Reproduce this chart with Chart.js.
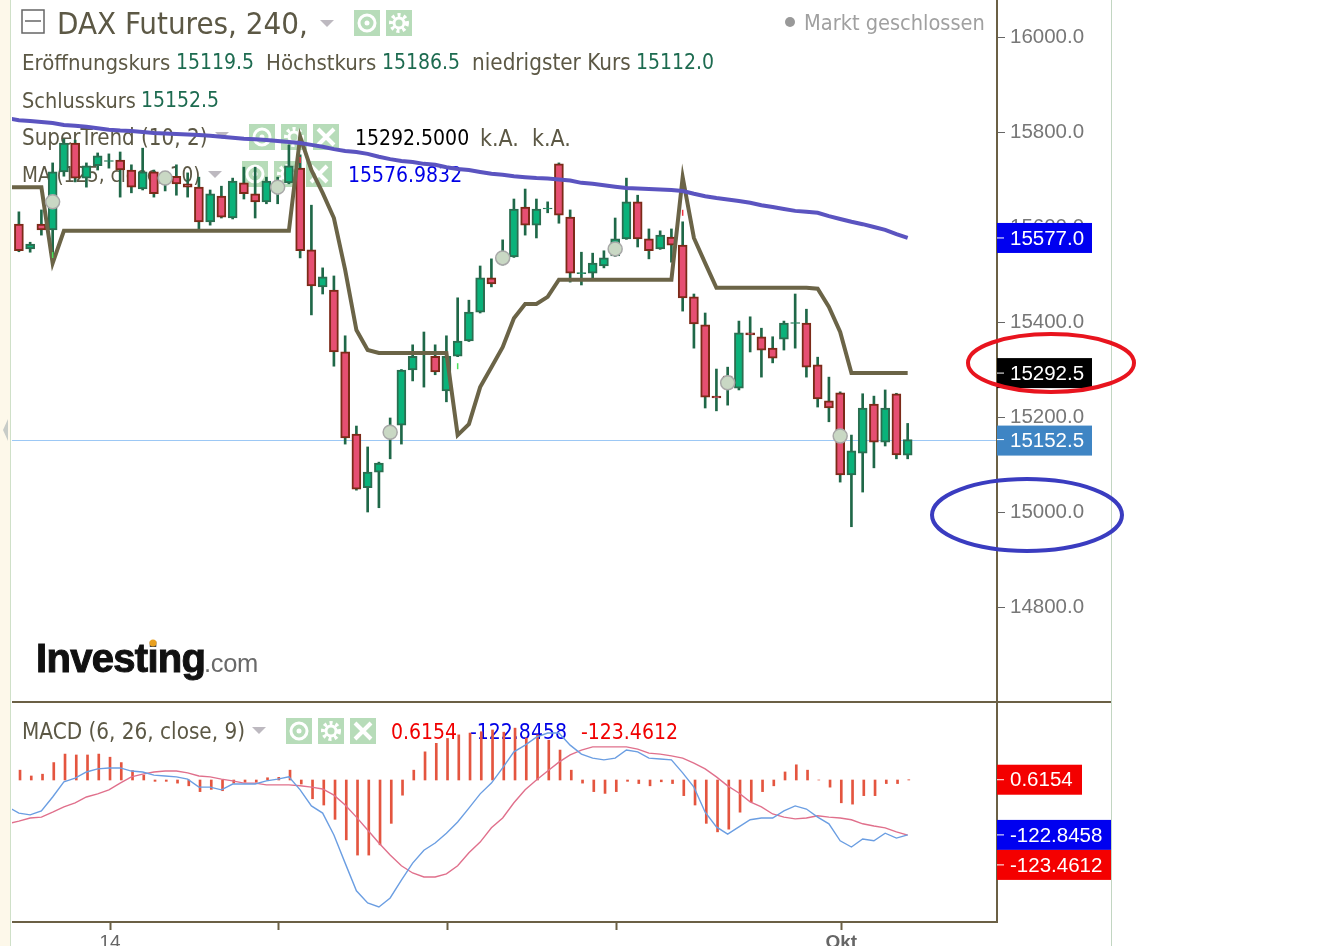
<!DOCTYPE html>
<html>
<head>
<meta charset="utf-8">
<title>DAX Futures, 240</title>
<script src="https://cdn.jsdelivr.net/npm/chart.js@4"></script>
<style>
html, body { margin: 0; padding: 0; background: #fff; overflow: hidden; }
canvas { display: block; }
</style>
</head>
<body>
<canvas id="chart-dax" width="1330" height="946"></canvas>
<script>
const opens = [15606,15554,15606,15594,15716,15777,15703,15729,15738,15741,
    15720,15680,15716,15697,15707,15691,15684,15611,15665,15619,
    15693,15670,15653,15678,15693,15724,15552,15474,15467,15337,
    15164,15051,15084,15158,15183,15299,15333,15328,15255,15328,
    15360,15421,15493,15526,15537,15642,15604,15638,15733,15621,
    15502,15503,15518,15539,15575,15653,15575,15554,15579,15562,
    15453,15394,15244,15286,15261,15377,15369,15345,15364,15397,
    15398,15310,15234,15251,15078,15124,15227,15147,15249,15119.5];
const highs = [15632,15568,15636,15735,15785,15783,15735,15756,15754,15758,
    15731,15766,15720,15716,15731,15714,15705,15678,15686,15703,
    15726,15726,15705,15705,15773,15752,15646,15514,15497,15371,
    15181,15137,15105,15198,15300,15352,15379,15352,15371,15451,
    15446,15518,15533,15573,15659,15680,15659,15653,15735,15636,
    15547,15545,15550,15619,15703,15667,15596,15592,15596,15611,
    15459,15419,15301,15305,15402,15411,15387,15369,15402,15459,
    15427,15326,15284,15253,15162,15249,15244,15257,15250,15186.5];
const lows = [15548,15547,15583,15541,15707,15695,15684,15720,15724,15663,
    15672,15678,15663,15676,15667,15663,15596,15604,15619,15617,
    15659,15619,15649,15649,15691,15535,15415,15459,15307,15143,
    15046,15000,15009,15112,15143,15276,15263,15289,15232,15327,
    15359,15419,15474,15520,15536,15583,15577,15630,15608,15484,
    15478,15491,15514,15538,15574,15558,15533,15553,15526,15423,
    15345,15219,15213,15225,15257,15337,15284,15314,15341,15345,
    15284,15221,15190,15063,14969,15042,15093,15139,15112,15112];
const closes = [15550,15564,15594,15716,15777,15703,15729,15750,15740,15720,
    15684,15716,15670,15710,15691,15684,15611,15670,15621,15697,
    15670,15653,15697,15691,15729,15550,15476,15495,15337,15156,
    15048,15084,15103,15179,15299,15328,15335,15295,15328,15360,
    15421,15493,15480,15541,15638,15604,15638,15640,15625,15503,
    15504,15524,15535,15575,15653,15575,15550,15583,15562,15451,
    15396,15242,15240,15259,15377,15373,15341,15324,15398,15399,
    15305,15238,15219,15078,15129,15219,15147,15219,15120,15152.5];

// line series start one bar earlier, they run in from the left edge
const superTrend = [15684,15684,15684,15684,15524,
    15592,15592,15592,15592,15592,15592,15592,15592,15592,15592,15592,
    15592,15592,15592,15592,15592,15592,15592,15592,15592,15592,
    15790,15720,15672,15619,15510,15383,15341,
    15335,15335,15335,15335,15335,15335,15335,
    15162,15185,15263,15305,15347,15408,15438,15438,15453,15489,
    15489,15489,15489,15489,15489,15489,15489,15489,15489,15489,
    15705,15577,15524,15472,
    15472,15472,15472,15472,15472,15472,15472,15472,
    15470,15432,15379,15292.5,15292.5,15292.5,15292.5,15292.5,15292.5];
const movingAverage = [15829,15825,15823,15821,15819,15815,15813,15811,15808,15805,
    15803,15802,15800,15798,15797,15796,15795,15794,15792,15790,
    15788,15786,15785,15783,15781,15779,15777,15773,15769,15764,
    15760,15758,15754,15748,15743,15739,15737,15733,15731,15726,
    15722,15720,15716,15712,15710,15707,15705,15703,15702,15700,
    15698,15693,15691,15688,15685,15682,15681,15680,15679,15678,
    15676,15670,15665,15661,15658,15655,15651,15646,15642,15638,
    15634,15632,15630,15623,15617,15611,15606,15600,15594,15585,15577];
const macdLine = [-60,-74,-78,-69,-38,-4,4,18,25,27,27,
    20,18,11,9,7,2,-16,-16,-22,-9,
    -9,-9,-2,2,7,-22,-58,-74,-123,-186,
    -248,-275,-284,-264,-224,-186,-157,-141,-119,-94,
    -63,-31,-7,27,63,78,96,105,105,78,
    58,49,45,49,67,63,49,47,45,16,
    -16,-72,-105,-121,-105,-89,-85,-85,-69,-58,
    -65,-83,-98,-136,-150,-132,-136,-119,-130,-122.85];
const signalLine = [-98,-92,-85,-83,-72,-60,-51,-38,-31,-22,-7,
    7,13,18,20,20,16,9,7,2,-2,
    -7,-7,-11,-11,-11,-13,-16,-20,-34,-56,
    -83,-112,-141,-168,-192,-208,-217,-217,-210,-192,
    -163,-139,-107,-85,-51,-22,0,20,40,56,
    67,74,74,74,74,69,60,58,54,49,
    38,25,7,-13,-29,-49,-60,-76,-83,-87,
    -85,-80,-83,-85,-89,-98,-103,-107,-116,-123.46];
const histogram = [22,9,13,39,58,56,56,58,51,39,
    21,11,-3,-3,-7,-13,-26,-21,-24,-7,
    -5,-5,5,6,22,-9,-42,-56,-88,-134,
    -168,-168,-145,-97,-34,22,63,82,93,101,
    105,108,112,107,116,94,101,89,67,22,
    -7,-26,-30,-26,-3,-8,-13,-4,-8,-35,
    -56,-97,-116,-110,-72,-49,-26,-13,18,34,
    22,0,-16,-51,-54,-35,-35,-8,-8,0.6];

const markerBars = [3,13,23,33,43,53,63,73];
const markerValues = [15653,15703,15684,15168,15535,15554,15272,15160];
const upSignalBars = [3,39];
const upSignalValues = [15541,15307];
const downSignalBars = [25,59];
const downSignalValues = [15741,15630];

const priceTicks = [14800,15000,15200,15400,15600,15800,16000];
const xTickBars = [8,23,38,53,73];
const xTickLabels = ['14','','','','Okt'];

const lastClose = 15152.5;
const superTrendLast = 15292.5;
const maLast = 15577;
const histLast = 0.6154;
const macdLast = -122.8458;
const signalLast = -123.4612;

const UI_FONT = "'DejaVu Sans Condensed', 'DejaVu Sans'";
const AXIS_FONT = "'Liberation Sans'";
const OLIVE = '#6b6045';
const TEXT = '#5c5845';
const NUM_GREEN = '#1d6b50';

const bars = opens.map((o, i) => i);
const upBar = i => closes[i] >= opens[i];
const linePoints = values => values.map((v, i) => ({x: i - 1, y: v}));

function label(ctx, text, x, y, size, color) {
    ctx.font = size + 'px ' + UI_FONT;
    ctx.fillStyle = color;
    ctx.textAlign = 'left';
    ctx.textBaseline = 'middle';
    ctx.fillText(text, x, y);
}

function triangle(ctx, x, y) {
    ctx.fillStyle = '#bdb9c0';
    ctx.beginPath();
    ctx.moveTo(x - 7, y - 3);
    ctx.lineTo(x + 7, y - 3);
    ctx.lineTo(x, y + 4);
    ctx.fill();
}

function iconBox(ctx, x, y, kind) {
    let cx = x + 13, cy = y + 13;
    ctx.fillStyle = '#b7dcb9';
    ctx.fillRect(x, y, 26, 26);
    ctx.strokeStyle = '#fff';
    ctx.fillStyle = '#fff';
    if (kind === 'eye') {
        ctx.lineWidth = 3;
        ctx.beginPath();
        ctx.arc(cx, cy, 8, 0, Math.PI * 2);
        ctx.stroke();
        ctx.beginPath();
        ctx.arc(cx, cy, 2.5, 0, Math.PI * 2);
        ctx.fill();
    } else if (kind === 'gear') {
        ctx.lineWidth = 4;
        ctx.setLineDash([3, 3]);
        ctx.beginPath();
        ctx.arc(cx, cy, 8, 0, Math.PI * 2);
        ctx.stroke();
        ctx.setLineDash([]);
        ctx.lineWidth = 3;
        ctx.beginPath();
        ctx.arc(cx, cy, 5, 0, Math.PI * 2);
        ctx.stroke();
    } else {
        ctx.lineWidth = 4;
        ctx.beginPath();
        ctx.moveTo(x + 5, y + 5);
        ctx.lineTo(x + 21, y + 21);
        ctx.moveTo(x + 21, y + 5);
        ctx.lineTo(x + 5, y + 21);
        ctx.stroke();
    }
}

function badge(ctx, text, x, y, w, color, tickY) {
    ctx.fillStyle = color;
    ctx.fillRect(x, y - 15, w, 30);
    ctx.strokeStyle = '#fff';
    ctx.lineWidth = 1;
    ctx.beginPath();
    ctx.moveTo(x, tickY);
    ctx.lineTo(x + 7, tickY);
    ctx.stroke();
    ctx.font = '20.5px ' + AXIS_FONT;
    ctx.fillStyle = '#fff';
    ctx.textAlign = 'left';
    ctx.textBaseline = 'middle';
    ctx.fillText(text, x + 13, y + 1);
}

function ring(ctx, cx, cy, rx, ry, color) {
    ctx.strokeStyle = color;
    ctx.lineWidth = 4;
    ctx.beginPath();
    ctx.ellipse(cx, cy, rx, ry, 0, 0, Math.PI * 2);
    ctx.stroke();
}

const underlay = {
    id: 'underlay',
    beforeDatasetsDraw(chart) {
        let ctx = chart.ctx;
        let yPrice = chart.scales.yPrice;
        ctx.save();

        // left strip of the page
        ctx.fillStyle = '#fdf8ea';
        ctx.fillRect(0, 0, 10, 946);
        ctx.fillStyle = '#cfe0c8';
        ctx.fillRect(10, 0, 1, 946);
        ctx.fillStyle = '#c8ccc8';
        ctx.beginPath();
        ctx.moveTo(8, 419);
        ctx.lineTo(3, 430);
        ctx.lineTo(8, 441);
        ctx.fill();

        // title block
        ctx.strokeStyle = '#666';
        ctx.lineWidth = 1.5;
        ctx.strokeRect(22, 10, 22, 23);
        ctx.beginPath();
        ctx.moveTo(25, 21);
        ctx.lineTo(41, 21);
        ctx.stroke();
        label(ctx, 'DAX Futures, 240,', 57, 26, 31, TEXT);
        triangle(ctx, 327, 23);
        iconBox(ctx, 354, 10, 'eye');
        iconBox(ctx, 386, 10, 'gear');

        ctx.fillStyle = '#999';
        ctx.beginPath();
        ctx.arc(790, 22, 5, 0, Math.PI * 2);
        ctx.fill();
        label(ctx, 'Markt geschlossen', 804, 24, 21.6, '#a0a0a0');

        label(ctx, 'Eröffnungskurs', 22, 64, 22, TEXT);
        label(ctx, '15119.5', 176, 64, 21, NUM_GREEN);
        label(ctx, 'Höchstkurs', 266, 64, 22, TEXT);
        label(ctx, '15186.5', 382, 64, 21, NUM_GREEN);
        label(ctx, 'niedrigster Kurs', 472, 64, 22.3, TEXT);
        label(ctx, '15112.0', 636, 64, 21, NUM_GREEN);
        label(ctx, 'Schlusskurs', 22, 102, 21.5, TEXT);
        label(ctx, '15152.5', 141, 102, 21, NUM_GREEN);

        label(ctx, 'SuperTrend (10, 2)', 22, 139, 22.2, TEXT);
        triangle(ctx, 222, 135);
        iconBox(ctx, 249, 124, 'eye');
        iconBox(ctx, 281, 124, 'gear');
        iconBox(ctx, 313, 124, 'close');
        label(ctx, '15292.5000', 355, 140, 21, '#000');
        label(ctx, 'k.A.', 480, 140, 23, TEXT);
        label(ctx, 'k.A.', 532, 140, 23, TEXT);

        label(ctx, 'MA (125, close, 10)', 22, 177, 20.5, TEXT);
        triangle(ctx, 215, 174);
        iconBox(ctx, 242, 161, 'eye');
        iconBox(ctx, 274, 161, 'gear');
        iconBox(ctx, 306, 161, 'close');
        label(ctx, '15576.9832', 348, 177, 21, '#0000e6');

        label(ctx, 'MACD (6, 26, close, 9)', 22, 733, 22.3, TEXT);
        triangle(ctx, 259, 730);
        iconBox(ctx, 286, 718, 'eye');
        iconBox(ctx, 318, 718, 'gear');
        iconBox(ctx, 350, 718, 'close');
        label(ctx, '0.6154', 391, 734, 21, '#f00000');
        label(ctx, '-122.8458', 470, 734, 21, '#0000e6');
        label(ctx, '-123.4612', 581, 734, 21, '#f00000');

        // watermark
        ctx.textBaseline = 'alphabetic';
        ctx.textAlign = 'left';
        ctx.letterSpacing = '-0.7px';
        ctx.font = "bold 40px " + AXIS_FONT;
        ctx.fillStyle = '#111';
        ctx.strokeStyle = '#111';
        ctx.lineWidth = 1;
        ctx.fillText('Investing', 36, 672);
        ctx.strokeText('Investing', 36, 672);
        ctx.letterSpacing = '-0.3px';
        ctx.font = "25.5px " + AXIS_FONT;
        ctx.fillStyle = '#6a6a6a';
        ctx.fillText('.com', 204, 672);
        ctx.letterSpacing = '0px';
        ctx.fillStyle = '#e8a020';
        ctx.beginPath();
        ctx.arc(153, 643, 3.5, 0, Math.PI * 2);
        ctx.fill();

        // last price line
        let closeY = Math.round(yPrice.getPixelForValue(lastClose));
        ctx.fillStyle = '#9cc8f5';
        ctx.fillRect(12, closeY, 985, 1);

        ctx.restore();
    },
};

const overlay = {
    id: 'overlay',
    afterDraw(chart) {
        let ctx = chart.ctx;
        let yPrice = chart.scales.yPrice;
        let yMacd = chart.scales.yMacd;
        ctx.save();

        // pane frame
        ctx.fillStyle = OLIVE;
        ctx.fillRect(996, 0, 2, 923);
        ctx.fillRect(12, 701, 1099, 2);
        ctx.fillRect(12, 921, 986, 2);
        ctx.fillStyle = '#c2d6c2';
        ctx.fillRect(1111, 0, 1, 946);

        badge(ctx, maLast.toFixed(1), 997, yPrice.getPixelForValue(maLast), 95, '#0000f0', yPrice.getPixelForValue(maLast));
        badge(ctx, superTrendLast.toFixed(1), 997, yPrice.getPixelForValue(superTrendLast), 95, '#000', yPrice.getPixelForValue(superTrendLast));
        badge(ctx, lastClose.toFixed(1), 997, yPrice.getPixelForValue(lastClose) + 1, 95, '#3f85c4', yPrice.getPixelForValue(lastClose));
        badge(ctx, histLast.toFixed(4), 997, yMacd.getPixelForValue(histLast), 85, '#f40000', yMacd.getPixelForValue(histLast));
        let macdY = yMacd.getPixelForValue(macdLast);
        badge(ctx, macdLast.toFixed(4), 997, macdY, 114, '#0000f0', macdY);
        // the signal badge would sit on the macd one, so it moves down a row
        badge(ctx, signalLast.toFixed(4), 997, macdY + 30, 114, '#f40000', macdY + 30);

        ring(ctx, 1051, 363, 83, 29, '#e8141e');
        ring(ctx, 1027, 515, 95, 36, '#3a3cc0');

        ctx.restore();
    },
};

new Chart(document.getElementById('chart-dax'), {
    type: 'bar',
    plugins: [underlay, overlay],
    data: {
        datasets: [{
            type: 'scatter',
            data: markerBars.map((b, i) => ({x: b, y: markerValues[i]})),
            yAxisID: 'yPrice',
            order: 1,
            pointRadius: 7,
            pointBackgroundColor: '#c9d8c4',
            pointBorderColor: '#a8a8a8',
            pointBorderWidth: 1.5,
        }, {
            type: 'scatter',
            data: upSignalBars.map((b, i) => ({x: b, y: upSignalValues[i]})),
            yAxisID: 'yPrice',
            order: 1,
            pointStyle: 'line',
            rotation: 90,
            pointRadius: 3,
            pointBorderColor: '#4be05a',
            pointBorderWidth: 1.5,
        }, {
            type: 'scatter',
            data: downSignalBars.map((b, i) => ({x: b, y: downSignalValues[i]})),
            yAxisID: 'yPrice',
            order: 1,
            pointStyle: 'line',
            rotation: 90,
            pointRadius: 3,
            pointBorderColor: '#f03040',
            pointBorderWidth: 1.5,
        }, {
            type: 'line',
            data: linePoints(movingAverage),
            yAxisID: 'yPrice',
            order: 2,
            borderColor: '#5b54c0',
            borderWidth: 4,
            pointRadius: 0,
            tension: 0,
        }, {
            type: 'line',
            data: linePoints(superTrend),
            yAxisID: 'yPrice',
            order: 3,
            borderColor: '#6b6447',
            borderWidth: 4,
            pointRadius: 0,
            tension: 0,
        }, {
            data: bars.map(i => ({x: i, y: [opens[i], closes[i]]})),
            yAxisID: 'yPrice',
            order: 4,
            grouped: false,
            barThickness: 9,
            borderWidth: 2,
            borderSkipped: false,
            backgroundColor: bars.map(i => upBar(i) ? '#0ab27a' : '#e64f72'),
            borderColor: bars.map(i => upBar(i) ? '#2a6e50' : '#7c2a18'),
        }, {
            data: bars.map(i => ({x: i, y: [lows[i], highs[i]]})),
            yAxisID: 'yPrice',
            order: 5,
            grouped: false,
            barThickness: 2,
            backgroundColor: '#1f6848',
        }, {
            type: 'line',
            data: linePoints(macdLine),
            yAxisID: 'yMacd',
            order: 1,
            borderColor: '#6b9ee2',
            borderWidth: 1.4,
            pointRadius: 0,
            tension: 0,
        }, {
            type: 'line',
            data: linePoints(signalLine),
            yAxisID: 'yMacd',
            order: 2,
            borderColor: '#e0708c',
            borderWidth: 1.4,
            pointRadius: 0,
            tension: 0,
        }, {
            data: bars.map(i => ({x: i + 0.1, y: histogram[i]})),
            yAxisID: 'yMacd',
            order: 3,
            grouped: false,
            barThickness: 2,
            backgroundColor: '#e4553f',
        }],
    },
    options: {
        responsive: false,
        animation: false,
        devicePixelRatio: 1,
        layout: {
            autoPadding: false,
            padding: {left: 12, right: 219, top: 0, bottom: 0},
        },
        plugins: {
            legend: {display: false},
            tooltip: {enabled: false},
        },
        scales: {
            x: {
                type: 'linear',
                offset: false,
                min: -0.613,
                max: 86.94,
                afterBuildTicks: axis => {
                    axis.ticks = xTickBars.map(b => ({value: b + 0.1}));
                },
                afterFit: axis => {
                    axis.height = 24;
                    axis.paddingLeft = 0;
                    axis.paddingRight = 0;
                },
                border: {display: false},
                grid: {offset: false, drawOnChartArea: false, tickLength: 8, tickColor: OLIVE, tickWidth: 2},
                ticks: {
                    autoSkip: false,
                    maxRotation: 0,
                    padding: 1,
                    color: '#666',
                    font: ctx => ({
                        family: AXIS_FONT,
                        size: 19,
                        weight: xTickLabels[ctx.index] === 'Okt' ? 'bold' : 'normal',
                    }),
                    callback: (value, index) => xTickLabels[index],
                },
            },
            yPrice: {
                position: 'right',
                stack: 'panes',
                stackWeight: 702,
                min: 14600,
                max: 16078,
                offset: false,
                afterBuildTicks: axis => {
                    axis.ticks = priceTicks.map(v => ({value: v}));
                },
                afterFit: axis => {
                    axis.width = 114;
                    axis.paddingTop = 0;
                    axis.paddingBottom = 0;
                },
                border: {display: false},
                grid: {drawOnChartArea: false, tickLength: 8, tickColor: '#666', tickWidth: 1},
                ticks: {
                    padding: 5,
                    color: '#777',
                    font: {family: AXIS_FONT, size: 20.5},
                    callback: value => value.toFixed(1),
                },
            },
            yMacd: {
                position: 'right',
                stack: 'panes',
                stackWeight: 220,
                min: -317.7,
                max: 174.5,
                afterBuildTicks: axis => {
                    axis.ticks = [];
                },
                afterFit: axis => {
                    axis.width = 114;
                    axis.paddingTop = 0;
                    axis.paddingBottom = 0;
                },
                border: {display: false},
                grid: {drawOnChartArea: false, drawTicks: false},
                ticks: {display: false},
            },
        },
    },
});
</script>
</body>
</html>
